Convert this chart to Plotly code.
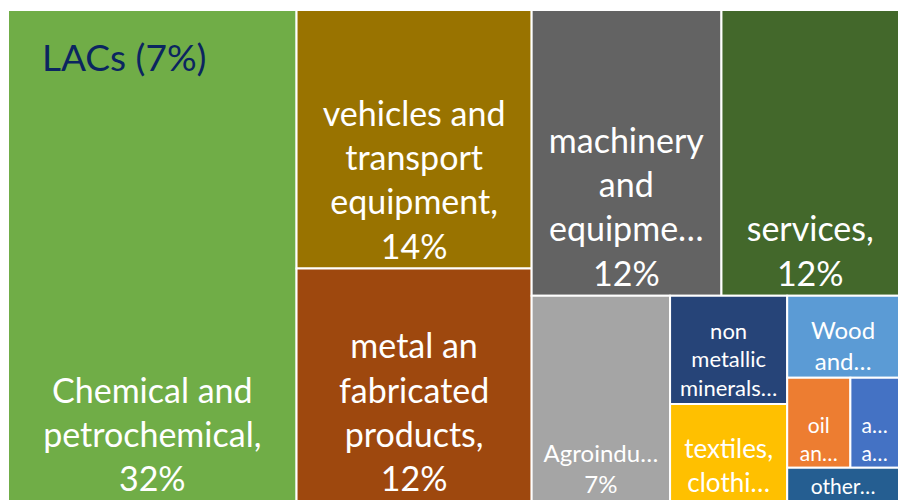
import plotly.graph_objects as go

# ---- data ----
categories = [
    "Chemical and petrochemical", "vehicles and transport equipment",
    "metal an fabricated products", "machinery and equipment", "services",
    "Agroindustry", "non metallic minerals", "textiles, clothing",
    "Wood and products", "oil and gas", "a… a…", "other",
]
values = [32.4, 13.9, 12.5, 12.4, 11.6, 6.5, 2.9, 2.6, 2.1, 1.3, 1.0, 0.85]
label_texts = [
    "Chemical and<br>petrochemical,<br>32%",
    "vehicles and<br>transport<br>equipment,<br>14%",
    "metal an<br>fabricated<br>products,<br>12%",
    "machinery<br>and<br>equipme…<br>12%",
    "services,<br>12%",
    "Agroindu…<br>7%",
    "non<br>metallic<br>minerals…",
    "textiles,<br>clothi…",
    "Wood<br>and…",
    "oil<br>an…",
    "a…<br>a…",
    "other…",
]
colors = ["#70AD47", "#997300", "#9E480E", "#636363", "#43682B", "#A5A5A5",
          "#264478", "#FFC000", "#5B9BD5", "#ED7D31", "#4472C4", "#255E91"]
font_sizes = [34, 34, 34, 34, 34, 24, 22, 26, 24, 21, 21, 21]
title_text = "LACs (7%)"

fig = go.Figure(go.Treemap(
    labels=categories,
    parents=[""] * len(categories),
    values=values,
    text=label_texts,
    textinfo="text",
    textposition="bottom center",
    textfont=dict(family="Lato", color="white", size=font_sizes),
    marker=dict(colors=colors, line=dict(color="white", width=2),
                pad=dict(t=0, l=0, r=0, b=0)),
    tiling=dict(packing="squarify", squarifyratio=1, pad=0),
    pathbar=dict(visible=False),
    sort=False,
    hoverinfo="skip",
))

fig.add_annotation(
    text=title_text, x=0.036, y=0.905, xref="paper", yref="paper",
    xanchor="left", yanchor="middle", showarrow=False,
    font=dict(family="Lato", size=37, color="#0B2560"),
)

fig.update_layout(
    width=899, height=501,
    margin=dict(l=8, r=0, t=10, b=0),
    paper_bgcolor="white",
    showlegend=False,
)

fig.write_html(
    "out.html",
    config={"displayModeBar": False},
    post_script="document.body.style.margin='0';document.body.style.overflow='hidden';",
)
